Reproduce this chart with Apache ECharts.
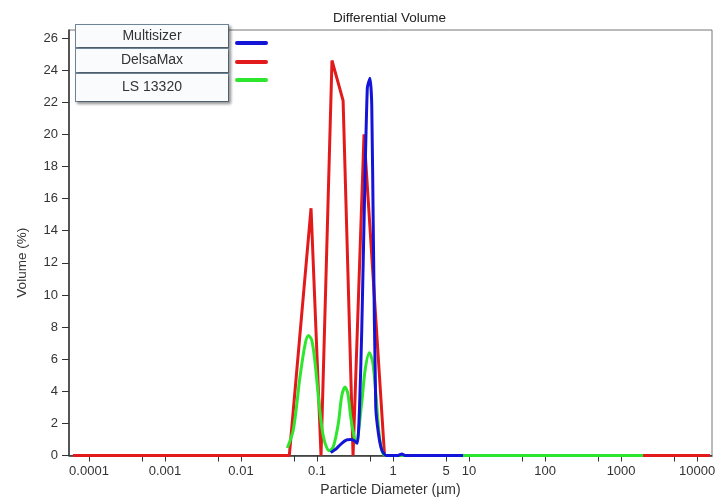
<!DOCTYPE html>
<html>
<head>
<meta charset="utf-8">
<script src="https://cdn.jsdelivr.net/npm/echarts@6/dist/echarts.min.js"></script>
<style>
html,body{margin:0;padding:0;background:#fff;}
#chart{width:717px;height:498px;}
</style>
</head>
<body>
<div id="chart"></div>
<script>
// ---- data (particle diameter in µm, volume in %) ----
const seriesNames = ['Multisizer', 'DelsaMax', 'LS 13320'];

const delsaD = [0.0000615, 0.0432, 0.0834, 0.1129, 0.1573, 0.2203, 0.2979, 0.4151, 0.773, 14830];
const delsaV = [0, 0, 15.4, 0, 24.6, 22.1, 0, 20.0, 0, 0];

const lsD = [0.0407, 0.0488, 0.0597, 0.0695, 0.0768, 0.0851, 0.0941, 0.104, 0.1153, 0.1274,
             0.1452, 0.1638, 0.1906, 0.2113, 0.2336, 0.2535, 0.2775, 0.3068, 0.326, 0.3876,
             0.4284, 0.4876, 0.5408, 0.5974, 0.6607, 0.7317, 0.809, 1950];
const lsV = [0.47, 1.6, 4.9, 6.9, 7.47, 7.2, 5.8, 3.7, 1.8, 0.78,
             0.3, 0.55, 2.0, 3.7, 4.26, 3.9, 2.4, 1.2, 0.78, 3.3,
             5.3, 6.4, 5.8, 3.7, 1.2, 0.15, 0, 0];

const multiD = [0.1514, 0.1816, 0.2113, 0.2459, 0.2775, 0.3068, 0.339, 0.3624, 0.3876, 0.4151,
                0.459, 0.4981, 0.5248, 0.5507, 0.5921, 0.641, 0.710, 0.809, 1.16, 1.31, 1.44, 8.34];
const multiV = [0.18, 0.45, 0.76, 0.97, 1.0, 0.93, 0.76, 3.0, 7.8, 14.5,
                22.9, 23.5, 21.8, 13.7, 3.05, 1.4, 0.35, 0, 0, 0.1, 0, 0];

const xLabelTicks = ['0.0001', '0.001', '0.01', '0.1', '1', '5', '10', '100', '1000', '10000'];
const xMinorTicks = [0.0005, 0.005, 0.05, 0.5, 5, 50, 500, 5000];
const yTicks = [0, 2, 4, 6, 8, 10, 12, 14, 16, 18, 20, 22, 24, 26];

const xMin = 0.0000546, xMax = 15700, yMax = 26.5;

// ---- build ----
const lg = v => Math.log10(v);
const pairs = (d, v) => d.map((x, i) => [lg(x), v[i]]);
const labelVals = xLabelTicks.map(s => lg(parseFloat(s)));
const tickVals = xLabelTicks.filter(s => s !== '5').map(s => lg(parseFloat(s)))
  .concat(xMinorTicks.map(lg));

// legend swatch: a 4px line placed at a given offset inside a 35x22 box
const swatch = y => 'path://M0 0 L0 0 M35 22 L35 22 M4 ' + (y - 2) + ' L33 ' + (y - 2) +
  ' Q35 ' + (y - 2) + ' 35 ' + y + ' Q35 ' + (y + 2) + ' 33 ' + (y + 2) + ' L4 ' + (y + 2) +
  ' Q2 ' + (y + 2) + ' 2 ' + y + ' Q2 ' + (y - 2) + ' 4 ' + (y - 2) + ' Z';
const swatchY = [18, 12.5, 3.5];
const rowH = [22, 23, 27];

const font = 'Liberation Sans, Arial, sans-serif';
const boxStyle = h => ({
  width: 152, height: h, align: 'center', verticalAlign: 'middle',
  fontSize: 14, color: '#333', fontFamily: font,
  backgroundColor: '#f9fbfd', borderColor: '#71869a', borderWidth: 1,
  shadowColor: 'rgba(0,0,0,0.35)', shadowBlur: 3, shadowOffsetX: 2, shadowOffsetY: 2
});

const chart = echarts.init(document.getElementById('chart'), null, {renderer: 'canvas'});
chart.setOption({
  animation: false,
  backgroundColor: '#ffffff',
  title: {
    text: 'Differential Volume', left: 328, top: 6,
    textStyle: {fontSize: 13.5, fontWeight: 'normal', color: '#222', fontFamily: font}
  },
  legend: {
    orient: 'vertical', left: 75, top: 24, align: 'right', itemGap: 0, padding: 0,
    itemWidth: 35, itemHeight: 22,
    data: seriesNames.map((n, i) => ({name: n, icon: swatch(swatchY[i])})),
    formatter: n => '{b' + seriesNames.indexOf(n) + '|' + n + '}',
    textStyle: {
      fontFamily: font,
      rich: {b0: boxStyle(rowH[0]), b1: boxStyle(rowH[1]), b2: boxStyle(rowH[2])}
    }
  },
  grid: {left: 69, right: 5, top: 30, bottom: 42.5, show: true, borderColor: '#777', borderWidth: 1,
         outerBoundsMode: 'none', containLabel: false},
  xAxis: {
    type: 'value', min: lg(xMin), max: lg(xMax),
    name: 'Particle Diameter (µm)', nameLocation: 'middle', nameGap: 28,
    nameTextStyle: {fontSize: 14, color: '#333', fontFamily: font},
    axisLine: {onZero: false, lineStyle: {color: '#333', width: 1.5}},
    axisTick: {length: 6, lineStyle: {color: '#333'}, customValues: tickVals},
    axisLabel: {
      customValues: labelVals, margin: 9, fontSize: 13, color: '#333', fontFamily: font,
      formatter: v => {
        const i = labelVals.findIndex(t => Math.abs(t - v) < 1e-6);
        return i >= 0 ? xLabelTicks[i] : '';
      }
    },
    splitLine: {show: false}
  },
  yAxis: {
    type: 'value', min: 0, max: yMax,
    name: 'Volume (%)', nameLocation: 'middle', nameGap: 40,
    nameTextStyle: {fontSize: 13.5, color: '#333', fontFamily: font, padding: [0, 40, 0, 0]},
    axisLine: {show: true, onZero: false, lineStyle: {color: '#333', width: 1.5}},
    axisTick: {show: true, length: 7, lineStyle: {color: '#333'}, customValues: yTicks},
    axisLabel: {customValues: yTicks, margin: 11, fontSize: 13, color: '#333', fontFamily: font},
    splitLine: {show: false}
  },
  series: [
    {name: 'DelsaMax', type: 'line', data: pairs(delsaD, delsaV), showSymbol: false, symbol: 'none',
     lineStyle: {color: '#e31a1c', width: 3}, itemStyle: {color: '#e31a1c'}, z: 2},
    {name: 'LS 13320', type: 'line', data: pairs(lsD, lsV), showSymbol: false, symbol: 'none', smooth: 0.3,
     lineStyle: {color: '#2ee62e', width: 3}, itemStyle: {color: '#2ee62e'}, z: 3},
    {name: 'Multisizer', type: 'line', data: pairs(multiD, multiV), showSymbol: false, symbol: 'none', smooth: 0.2,
     lineStyle: {color: '#1414d8', width: 3}, itemStyle: {color: '#1414d8'}, z: 4}
  ]
});
</script>
</body>
</html>
